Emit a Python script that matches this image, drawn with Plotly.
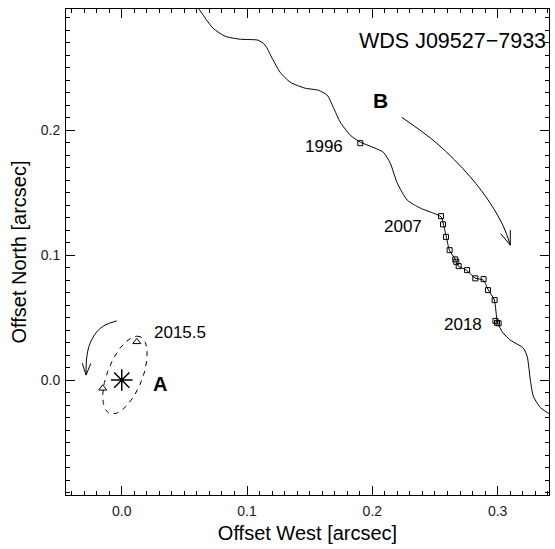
import numpy as np
import plotly.graph_objects as go

# Relative path of component B (arcsec)
path_x = [0.057, 0.0617, 0.0729, 0.0825, 0.0945, 0.1089, 0.1145, 0.1200, 0.1264, 0.1344,
          0.1464, 0.1568, 0.1640, 0.1688, 0.1744, 0.1824, 0.1904, 0.1983, 0.2087, 0.2143,
          0.2199, 0.2279, 0.2383, 0.2487, 0.2551, 0.2567, 0.2591, 0.2615, 0.2662, 0.2686,
          0.2750, 0.2822, 0.2886, 0.2926, 0.2974, 0.2998, 0.3038, 0.3101, 0.3205, 0.3237,
          0.3261, 0.3285, 0.3341, 0.3413, 0.3460]
path_y = [0.304, 0.2968, 0.2816, 0.2752, 0.2728, 0.2720, 0.2680, 0.2576, 0.2464, 0.2384,
          0.2336, 0.2320, 0.2280, 0.2184, 0.2064, 0.1960, 0.1904, 0.1872, 0.1824, 0.1736,
          0.1576, 0.1440, 0.1376, 0.1336, 0.1304, 0.1248, 0.1144, 0.1040, 0.0968, 0.0912,
          0.0880, 0.0816, 0.0800, 0.0720, 0.0640, 0.0464, 0.0384, 0.0320, 0.0256, 0.0184,
          0.0000, -0.0130, -0.0220, -0.0270, -0.0290]

# Measured positions of B
obs_b_x = [0.1904, 0.2548, 0.2564, 0.2588, 0.2617, 0.2662, 0.2670, 0.2689, 0.2756, 0.2822,
           0.2888, 0.2923, 0.2976, 0.2982, 0.2995, 0.3008]
obs_b_y = [0.1896, 0.1312, 0.1246, 0.1146, 0.1040, 0.0966, 0.0946, 0.0912, 0.0880, 0.0814,
           0.0808, 0.0720, 0.0640, 0.0474, 0.0458, 0.0454]

# Measured positions of A (subsystem)
obs_a_x = [0.0120, -0.0152]
obs_a_y = [0.0306, -0.0066]

# Orbit of the inner pair: centre, semi-axes and tilt (deg from +x)
orb_cx, orb_cy = 0.0026, 0.0040
orb_a, orb_b = 0.0330, 0.0140
orb_tilt = 68.5

# Direction-of-motion arrows
arrow_a_x = [-0.0039, -0.0133, -0.0199, -0.0253, -0.0279, -0.0285]
arrow_a_y = [0.0474, 0.0440, 0.0386, 0.0294, 0.0186, 0.0040]
arrow_b_x = [0.2236, 0.2516, 0.2782, 0.2942, 0.3048, 0.3101]
arrow_b_y = [0.2102, 0.1894, 0.1626, 0.1414, 0.1226, 0.1080]

# Epoch labels (right edge, centre)
epoch_text = ["1996", "2007", "2018"]
epoch_x = [0.1784, 0.2415, 0.2894]
epoch_y = [0.1872, 0.1232, 0.0448]

FONT = "Liberation Sans, Arial, Helvetica, sans-serif"


def head(xs, ys, length, half_angle=20.0):
    """Open V arrowhead at the last point of a polyline."""
    dx, dy = xs[-1] - xs[-2], ys[-1] - ys[-2]
    ang = np.arctan2(dy, dx) + np.pi
    hx, hy = [], []
    for s in (-1, 1):
        a = ang + s * np.radians(half_angle)
        hx += [xs[-1] + length * np.cos(a), xs[-1], None]
        hy += [ys[-1] + length * np.sin(a), ys[-1], None]
    return hx, hy


t = np.linspace(0, 2 * np.pi, 200)
th = np.radians(orb_tilt)
ell_x = orb_cx + orb_a * np.cos(t) * np.cos(th) - orb_b * np.sin(t) * np.sin(th)
ell_y = orb_cy + orb_a * np.cos(t) * np.sin(th) + orb_b * np.sin(t) * np.cos(th)

fig = go.Figure()
line = dict(color="black", width=1)

fig.add_trace(go.Scatter(x=path_x, y=path_y, mode="lines",
                         line=dict(color="black", width=1, shape="spline", smoothing=0.6)))
fig.add_trace(go.Scatter(x=obs_b_x, y=obs_b_y, mode="markers",
                         marker=dict(symbol="square-open", size=5, color="black",
                                     line=dict(width=1, color="black"))))
fig.add_trace(go.Scatter(x=ell_x, y=ell_y, mode="lines",
                         line=dict(color="black", width=1, dash="5px,5px")))
fig.add_trace(go.Scatter(x=obs_a_x, y=obs_a_y, mode="markers",
                         marker=dict(symbol="triangle-up-open", size=7, color="black",
                                     line=dict(width=1, color="black"))))
fig.add_trace(go.Scatter(x=[0.0], y=[0.0], mode="markers",
                         marker=dict(symbol="asterisk-open", size=18, color="black",
                                     line=dict(width=1.5, color="black"))))

for xs, ys, L in ((arrow_a_x, arrow_a_y, 0.010), (arrow_b_x, arrow_b_y, 0.012)):
    fig.add_trace(go.Scatter(x=xs, y=ys, mode="lines",
                             line=dict(color="black", width=1, shape="spline")))
    hx, hy = head(xs, ys, L)
    fig.add_trace(go.Scatter(x=hx, y=hy, mode="lines", line=line))

ann = []
for s, x, y in zip(epoch_text, epoch_x, epoch_y):
    ann.append(dict(x=x, y=y, text=s, showarrow=False, xanchor="right", yanchor="middle",
                    font=dict(size=17, color="black", family=FONT)))
ann.append(dict(x=0.0240, y=0.0384, text="2015.5", showarrow=False, xanchor="left",
                yanchor="middle", font=dict(size=17, color="black", family=FONT)))
ann.append(dict(x=0.0306, y=-0.0032, text="<b>A</b>", showarrow=False,
                font=dict(size=20, color="black", family=FONT)))
ann.append(dict(x=0.2063, y=0.2240, text="<b>B</b>", showarrow=False,
                font=dict(size=21, color="black", family=FONT)))
ann.append(dict(x=0.3405, y=0.2712, text="WDS J09527\u22127933", showarrow=False,
                xanchor="right", yanchor="middle",
                font=dict(size=21.5, color="black", family=FONT)))

axis_common = dict(
    showgrid=False, zeroline=False, showline=True, linecolor="black", linewidth=1,
    mirror="allticks", ticks="inside", ticklen=9, tickwidth=1, tickcolor="black",
    dtick=0.1, tickformat=".1f",
    minor=dict(ticks="inside", ticklen=4, dtick=0.01, tickcolor="black", tickwidth=1),
    tickfont=dict(size=14, color="#222222", family=FONT),
)

fig.update_layout(
    width=555, height=549,
    margin=dict(l=66, r=6, t=9, b=54),
    paper_bgcolor="white", plot_bgcolor="white",
    showlegend=False,
    annotations=ann,
    xaxis=dict(range=[-0.0445, 0.341], tick0=0,
               title=dict(text="Offset West [arcsec]", standoff=8,
                          font=dict(size=20, color="black", family=FONT)),
               ticklabelstandoff=3, **axis_common),
    yaxis=dict(range=[-0.092, 0.297], tick0=0,
               title=dict(text="Offset North [arcsec]", standoff=8,
                          font=dict(size=20, color="black", family=FONT)),
               ticklabelstandoff=2, **axis_common),
)

fig.write_html("out.html")
